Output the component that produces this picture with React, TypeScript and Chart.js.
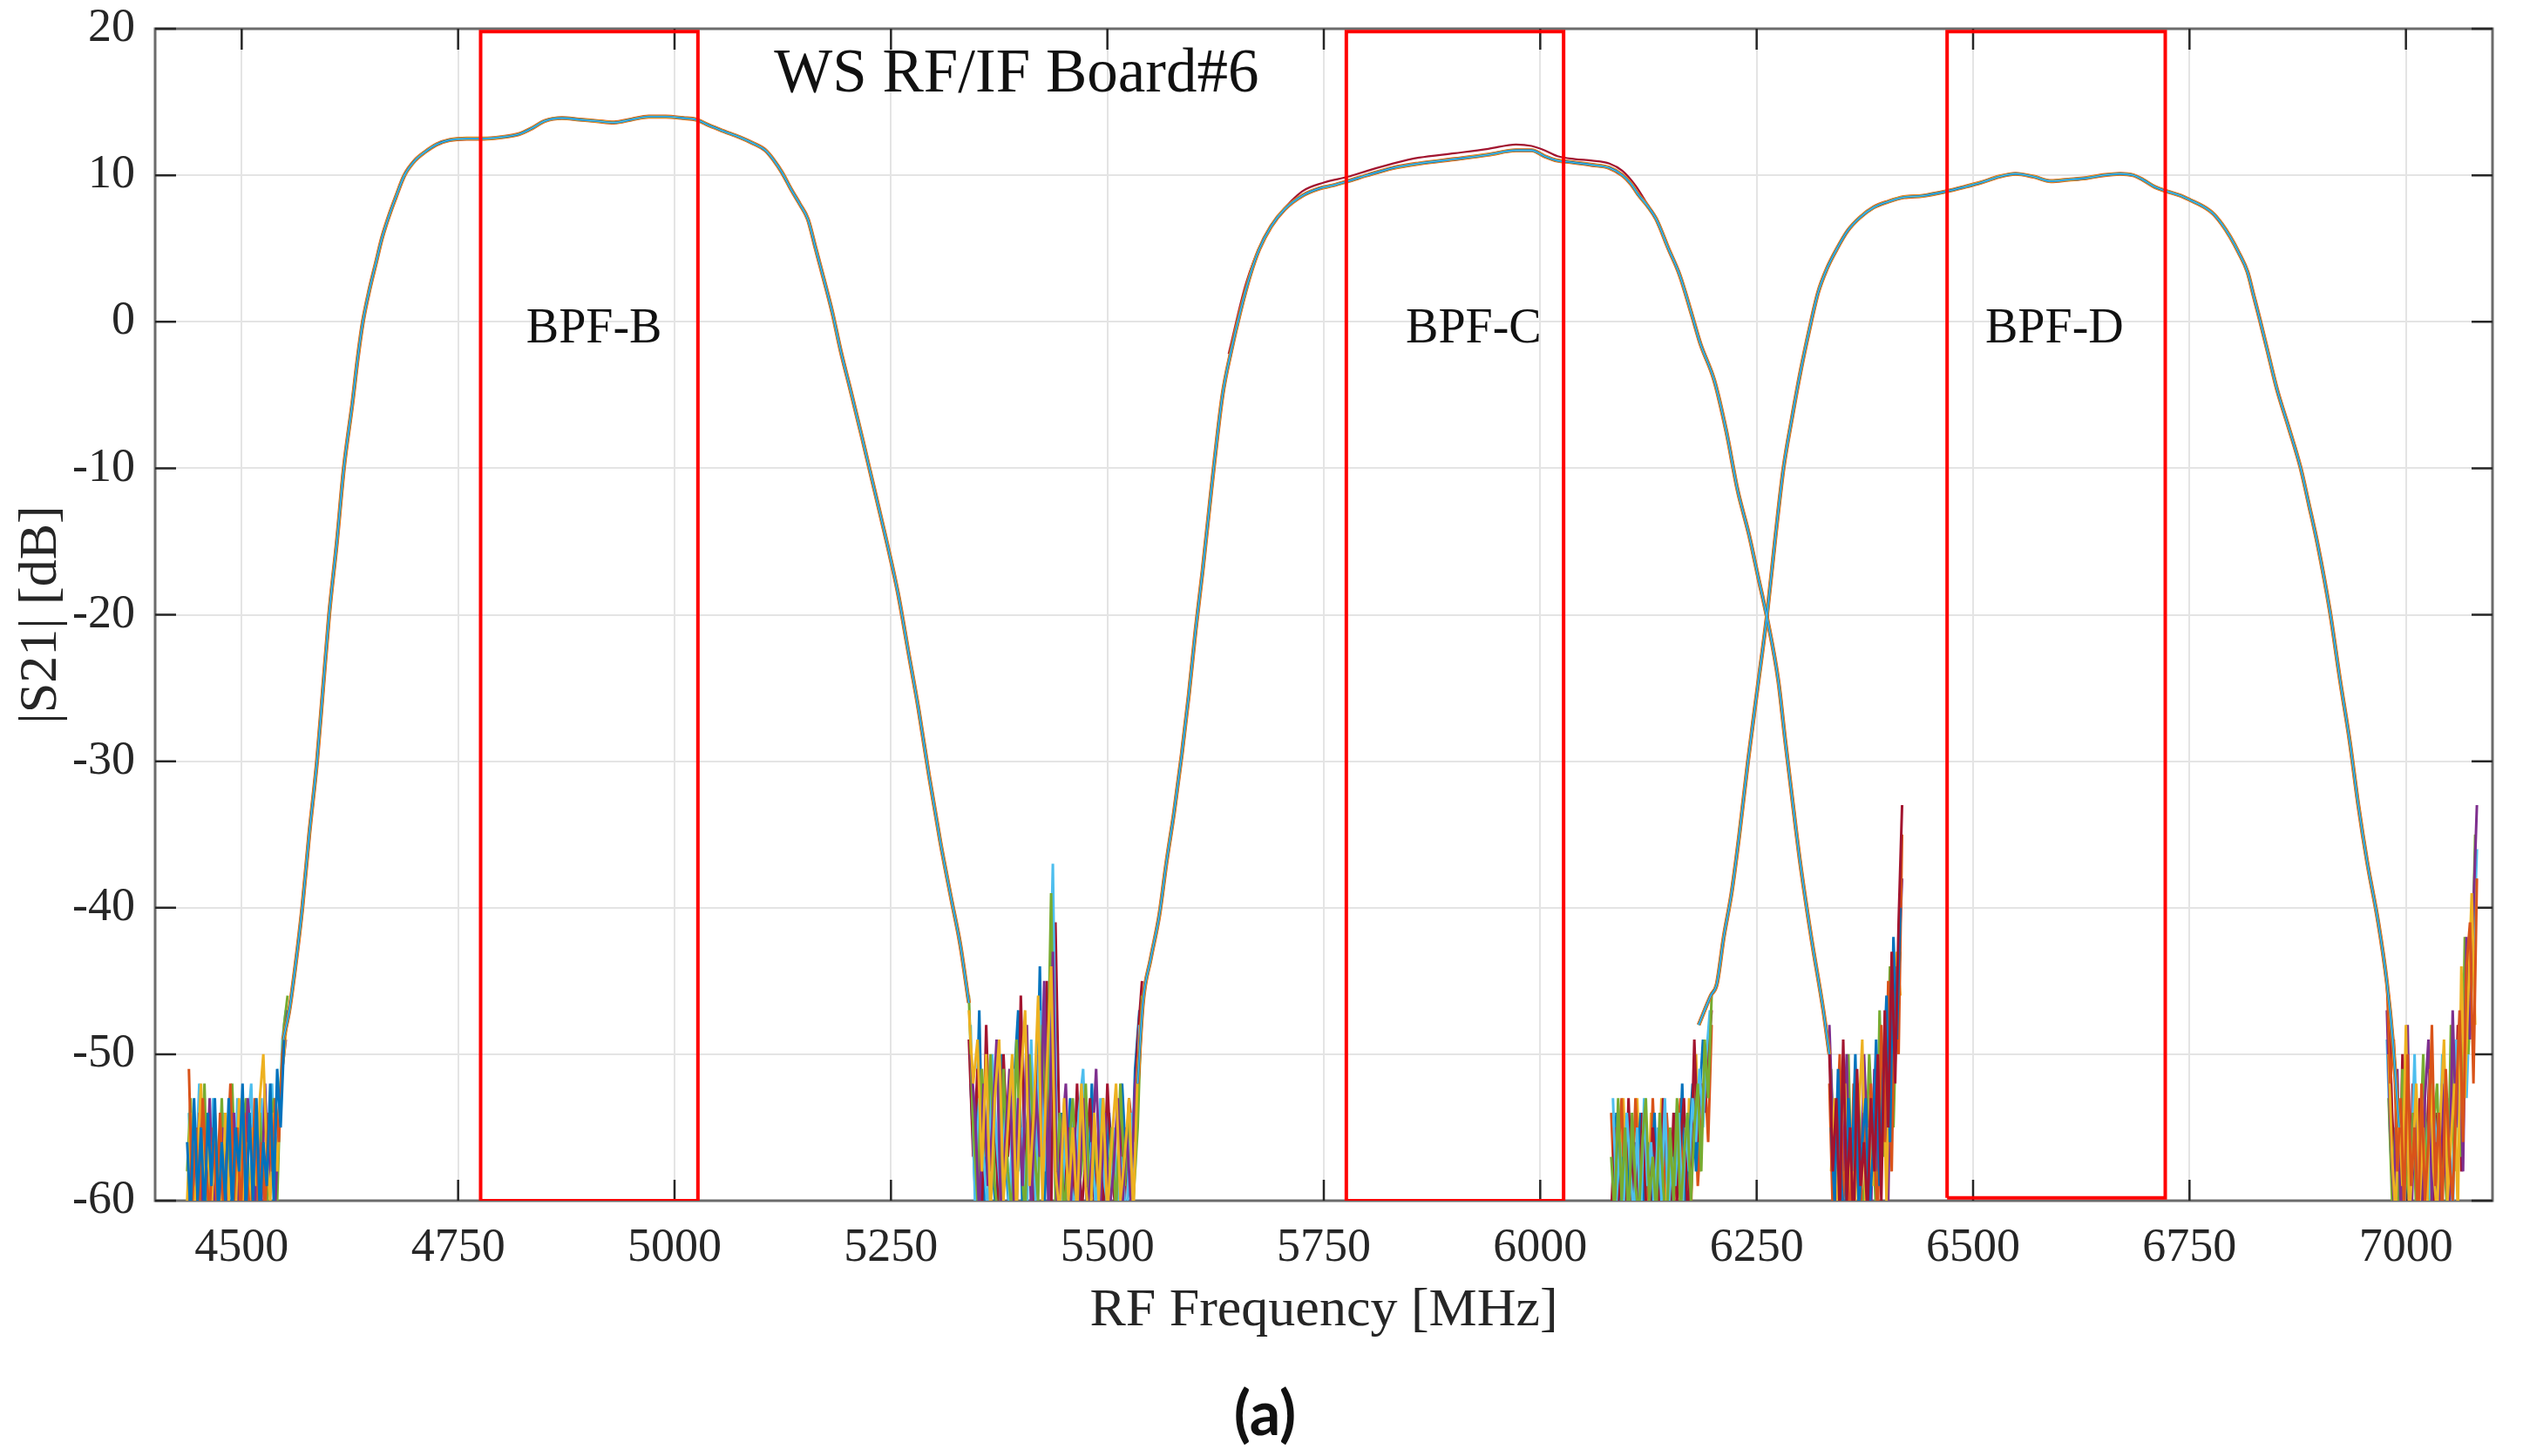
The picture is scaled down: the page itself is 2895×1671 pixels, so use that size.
import { useEffect, useRef } from 'react';
import Chart from 'chart.js/auto';

const FONT = '"Liberation Serif", "Times New Roman", serif';
const INK = '#262626';

const xTicks = [4500, 4750, 5000, 5250, 5500, 5750, 6000, 6250, 6500, 6750, 7000];
const yTicks = [-60, -50, -40, -30, -20, -10, 0, 10, 20];

// filter bands marked with red boxes
const bandNames = ['BPF-B', 'BPF-C', 'BPF-D'];
const bandLow = [4776, 5776, 6470];
const bandHigh = [5027, 6027, 6722];
const bandFloor = [-60, -60, -59.8];
const bandTop = [19.8, 19.8, 19.8];

// passband responses (MHz, dB)
const bpfBFreq = [4548, 4555, 4562, 4570, 4578, 4587, 4594, 4601, 4610, 4618, 4628, 4634, 4640, 4648, 4655, 4662, 4670, 4678, 4688, 4700, 4712, 4725, 4740, 4760, 4780, 4800, 4820, 4835, 4850, 4870, 4890, 4910, 4930, 4950, 4970, 4990, 5010, 5025, 5040, 5057, 5075, 5090, 5105, 5115, 5124, 5135, 5145, 5154, 5163, 5172, 5182, 5192, 5203, 5217, 5231, 5245, 5258, 5270, 5282, 5294, 5307, 5320, 5330, 5340];
const bpfBGain = [-49, -47, -44, -40, -35, -30, -25, -20, -15, -10, -5.5, -2.5, 0, 2.3, 4.0, 5.7, 7.2, 8.5, 10.0, 11.0, 11.6, 12.1, 12.4, 12.5, 12.5, 12.6, 12.8, 13.2, 13.7, 13.9, 13.8, 13.7, 13.6, 13.8, 14.0, 14.0, 13.9, 13.8, 13.4, 13.0, 12.6, 12.2, 11.7, 11.0, 10.2, 9.0, 8.0, 7.0, 5.0, 3.0, 0.7, -2.0, -4.6, -8.0, -11.5, -15.0, -18.5, -22.5, -26.5, -31, -35.5, -39.5, -42.5, -46.5];

const bpfCFreq = [5535, 5541, 5550, 5560, 5568, 5577, 5586, 5594, 5602, 5610, 5620, 5633, 5643, 5654, 5665, 5675, 5689, 5705, 5725, 5745, 5760, 5778, 5800, 5830, 5860, 5901, 5940, 5972, 5990, 6005, 6020, 6035, 6060, 6080, 6095, 6105, 6113, 6124, 6134, 6148, 6161, 6175, 6185, 6201, 6215, 6228, 6241, 6252, 6263, 6275, 6283, 6292, 6300, 6313, 6327, 6334];
const bpfCGain = [-52, -46.5, -43.5, -40.5, -37, -33.5, -29.5, -25.5, -21, -17, -11.5, -5, -2, 0.8, 3.2, 4.9, 6.5, 7.7, 8.6, 9.1, 9.3, 9.6, 10.0, 10.5, 10.8, 11.1, 11.4, 11.7, 11.7, 11.3, 11.0, 10.9, 10.7, 10.5, 10.0, 9.4, 8.7, 7.9, 7.0, 5.0, 3.2, 0.5, -1.5, -4.0, -7.5, -11.5, -14.5, -17.5, -20.5, -24.5, -28.6, -33, -36.8, -42, -47, -50];

// upper trace of BPF-C passband
const bpfCHiFreq = [5640, 5660, 5680, 5700, 5725, 5750, 5778, 5800, 5830, 5860, 5901, 5940, 5972, 5990, 6005, 6020, 6040, 6060, 6080, 6095, 6110, 6125];
const bpfCHiGain = [-2.2, 2.6, 5.6, 7.4, 8.9, 9.5, 9.9, 10.3, 10.8, 11.2, 11.5, 11.8, 12.1, 12.0, 11.7, 11.3, 11.1, 11.0, 10.8, 10.3, 9.3, 7.9];

const bpfDFreq = [6183, 6197, 6204, 6212, 6221, 6230, 6240, 6251, 6262, 6272, 6281, 6291, 6301, 6311, 6321, 6331, 6342, 6355, 6369, 6385, 6402, 6420, 6442, 6469, 6490, 6509, 6530, 6549, 6570, 6590, 6610, 6630, 6650, 6670, 6685, 6696, 6710, 6724, 6740, 6751, 6765, 6777, 6787, 6797, 6807, 6817, 6824, 6831, 6841, 6851, 6865, 6878, 6888, 6898, 6912, 6924, 6935, 6945, 6955, 6968, 6978, 6985, 6992];
const bpfDGain = [-48, -46, -45.2, -42, -39, -35, -30, -25, -20, -14.5, -10, -6.5, -3.3, -0.5, 2.0, 3.6, 4.9, 6.2, 7.1, 7.8, 8.2, 8.5, 8.6, 8.9, 9.2, 9.5, 9.9, 10.1, 9.9, 9.6, 9.7, 9.8, 10.0, 10.1, 10.0, 9.7, 9.2, 8.9, 8.6, 8.3, 7.9, 7.4, 6.7, 5.8, 4.7, 3.4, 1.8, 0.2, -2.2, -4.6, -7.3, -9.9, -12.5, -15.2, -19.7, -24.5, -28.6, -33, -36.8, -41, -45.1, -49.2, -55];

// noise floor below BPF-B
const bNoiseFreqA = [4437, 4441, 4445, 4449, 4453, 4457, 4461, 4465, 4469, 4473, 4477, 4481, 4485, 4489, 4493, 4497, 4501, 4505, 4509, 4513, 4517, 4521, 4525, 4529, 4533, 4537, 4541, 4545, 4549, 4553];
const bNoiseFreqB = [4439, 4443, 4447, 4451, 4455, 4459, 4463, 4467, 4471, 4475, 4479, 4483, 4487, 4491, 4495, 4499, 4503, 4507, 4511, 4515, 4519, 4523, 4527, 4531, 4535, 4539, 4543, 4547, 4551];
const bNoise1 = [-56, -61, -53, -60, -55, -61, -54, -59, -53, -61, -56, -60, -53, -61, -55, -58, -52, -61, -54, -60, -53, -61, -56, -59, -52, -60, -51, -55, -49, -47];
const bNoise2 = [-60, -54, -61, -57, -52, -60, -56, -61, -55, -58, -62, -54, -60, -57, -61, -53, -60, -56, -61, -55, -59, -53, -50, -57, -60, -54, -58, -52, -50, -47];
const bNoise3 = [-51, -60, -55, -61, -53, -58, -61, -55, -60, -54, -61, -57, -52, -60, -55, -61, -54, -59, -62, -53, -60, -56, -61, -54, -58, -53, -56, -50, -48];
const bNoise4 = [-61, -56, -60, -54, -61, -59, -53, -61, -57, -60, -55, -61, -58, -54, -61, -57, -60, -53, -56, -61, -55, -60, -52, -59, -55, -60, -54, -51, -49];
const bNoise5 = [-58, -53, -61, -55, -60, -52, -61, -57, -54, -60, -53, -61, -56, -52, -59, -61, -55, -53, -60, -57, -61, -54, -58, -61, -55, -53, -60, -52, -48, -46];
const bNoise6 = [-54, -61, -58, -52, -60, -56, -61, -53, -59, -61, -54, -60, -57, -61, -53, -58, -62, -55, -52, -60, -57, -53, -61, -56, -52, -59, -55, -49, -47];

// noise between BPF-B and BPF-C
const midNoiseFreqA = [5340, 5345, 5350, 5355, 5360, 5365, 5370, 5375, 5380, 5385, 5390, 5395, 5400, 5405, 5410, 5415, 5420, 5425, 5430, 5435, 5440, 5445, 5450, 5455, 5460, 5465, 5470, 5475, 5480, 5485, 5490, 5495, 5500, 5505, 5510, 5515, 5520, 5525, 5530, 5535, 5540];
const midNoiseFreqB = [5342, 5347, 5352, 5357, 5362, 5367, 5372, 5377, 5382, 5387, 5392, 5397, 5402, 5407, 5412, 5417, 5422, 5427, 5432, 5437, 5442, 5447, 5452, 5457, 5462, 5467, 5472, 5477, 5482, 5487, 5492, 5497, 5502, 5507, 5512, 5517, 5522, 5527, 5532, 5537];
const midNoise1 = [-47, -52, -49, -58, -50, -61, -53, -49, -60, -55, -50, -61, -52, -47, -59, -54, -46, -60, -51, -44, -58, -61, -53, -60, -55, -61, -52, -59, -62, -54, -60, -53, -61, -56, -52, -60, -57, -53, -61, -51, -47];
const midNoise2 = [-46, -55, -60, -51, -57, -50, -59, -62, -51, -58, -61, -49, -57, -61, -50, -56, -60, -48, -55, -39, -60, -54, -61, -57, -53, -60, -58, -52, -61, -56, -59, -53, -60, -55, -61, -52, -59, -54, -60, -55, -46];
const midNoise3 = [-50, -54, -61, -52, -59, -55, -49, -61, -56, -51, -60, -53, -59, -48, -61, -52, -57, -45, -61, -43, -61, -56, -52, -61, -55, -60, -53, -61, -57, -51, -60, -54, -61, -58, -53, -61, -55, -60, -52, -50];
const midNoise4 = [-48, -60, -53, -57, -61, -50, -56, -60, -54, -61, -51, -58, -55, -61, -49, -60, -47, -58, -51, -37, -59, -61, -55, -58, -61, -54, -51, -60, -56, -61, -53, -59, -61, -55, -60, -57, -62, -54, -58, -48];
const midNoise5 = [-49, -57, -51, -61, -48, -58, -55, -61, -50, -57, -53, -61, -46, -58, -52, -61, -50, -55, -45, -61, -41, -57, -61, -55, -60, -52, -61, -57, -53, -60, -55, -61, -52, -58, -61, -54, -60, -53, -56, -49, -45];
const midNoise6 = [-52, -59, -47, -61, -53, -58, -61, -50, -57, -61, -52, -47, -61, -55, -50, -59, -44, -61, -53, -47, -61, -54, -60, -53, -61, -57, -55, -61, -52, -60, -57, -61, -54, -59, -61, -52, -58, -60, -51, -47];

// noise below BPF-D rising edge
const dNoiseFreqA = [6082, 6086, 6090, 6094, 6098, 6102, 6106, 6110, 6114, 6118, 6122, 6126, 6130, 6134, 6138, 6142, 6146, 6150, 6154, 6158, 6162, 6166, 6170, 6174, 6178, 6182, 6186, 6190, 6194, 6198];
const dNoiseFreqB = [6084, 6088, 6092, 6096, 6100, 6104, 6108, 6112, 6116, 6120, 6124, 6128, 6132, 6136, 6140, 6144, 6148, 6152, 6156, 6160, 6164, 6168, 6172, 6176, 6180, 6184, 6188, 6192, 6196];
const dNoise1 = [-57, -61, -53, -60, -55, -62, -54, -59, -61, -56, -53, -60, -57, -61, -54, -59, -62, -55, -60, -53, -61, -57, -54, -60, -55, -52, -58, -49, -53, -46];
const dNoise2 = [-61, -55, -60, -58, -62, -53, -60, -56, -61, -54, -60, -62, -55, -58, -61, -53, -57, -61, -54, -60, -56, -53, -61, -58, -49, -56, -52, -54, -50, -47];
const dNoise3 = [-53, -60, -56, -61, -54, -58, -61, -55, -62, -53, -59, -56, -61, -55, -60, -53, -61, -57, -59, -54, -61, -55, -58, -53, -56, -51, -55, -50, -47];
const dNoise4 = [-60, -54, -61, -57, -60, -55, -62, -58, -54, -61, -56, -60, -54, -61, -57, -55, -60, -62, -54, -59, -52, -60, -56, -52, -58, -53, -49, -52, -48];
const dNoise5 = [-54, -60, -57, -53, -61, -56, -60, -53, -58, -62, -55, -61, -53, -59, -56, -61, -54, -58, -61, -56, -53, -60, -57, -61, -52, -59, -55, -51, -56, -48];
const dNoise6 = [-59, -55, -62, -53, -59, -61, -56, -53, -60, -57, -61, -54, -58, -62, -53, -60, -56, -61, -55, -58, -54, -61, -53, -57, -50, -58, -54, -51, -49];

// noise below BPF-C falling edge
const cNoiseFreqA = [6334, 6338, 6342, 6346, 6350, 6354, 6358, 6362, 6366, 6370, 6374, 6378, 6382, 6386, 6390, 6394, 6398, 6402, 6406, 6410, 6414, 6418];
const cNoiseFreqB = [6336, 6340, 6344, 6348, 6352, 6356, 6360, 6364, 6368, 6372, 6376, 6380, 6384, 6388, 6392, 6396, 6400, 6404, 6408, 6412, 6416];
const cNoise1 = [-50, -58, -53, -61, -49, -60, -55, -62, -51, -59, -56, -61, -53, -58, -50, -60, -47, -55, -43, -52, -41, -33];
const cNoise2 = [-52, -61, -56, -50, -60, -57, -62, -52, -58, -61, -54, -60, -52, -57, -61, -48, -56, -45, -58, -44, -50, -35];
const cNoise3 = [-55, -60, -51, -59, -62, -53, -58, -50, -61, -56, -53, -61, -57, -49, -59, -52, -46, -56, -42, -49, -40];
const cNoise4 = [-58, -53, -61, -55, -52, -61, -56, -60, -54, -49, -61, -55, -59, -53, -56, -51, -60, -48, -51, -43, -46];
const cNoise5 = [-48, -55, -61, -52, -58, -50, -61, -54, -57, -61, -50, -56, -61, -51, -58, -54, -49, -60, -46, -50, -44, -38];
const cNoise6 = [-51, -58, -54, -61, -56, -50, -60, -55, -52, -61, -58, -50, -55, -61, -47, -57, -53, -44, -55, -46, -43];

// noise above BPF-D
const eNoiseFreqA = [6978, 6982, 6986, 6990, 6994, 6998, 7002, 7006, 7010, 7014, 7018, 7022, 7026, 7030, 7034, 7038, 7042, 7046, 7050, 7054, 7058, 7062, 7066, 7070, 7074, 7078, 7082];
const eNoiseFreqB = [6980, 6984, 6988, 6992, 6996, 7000, 7004, 7008, 7012, 7016, 7020, 7024, 7028, 7032, 7036, 7040, 7044, 7048, 7052, 7056, 7060, 7064, 7068, 7072, 7076, 7080];
const eNoise1 = [-45, -52, -49, -58, -53, -61, -50, -59, -55, -62, -52, -60, -56, -48, -59, -54, -61, -51, -57, -60, -53, -47, -56, -44, -41, -52, -38];
const eNoise2 = [-47, -55, -60, -51, -61, -56, -48, -62, -54, -59, -61, -53, -49, -60, -56, -62, -52, -58, -61, -47, -55, -50, -58, -42, -49, -40, -33];
const eNoise3 = [-50, -57, -61, -54, -59, -48, -61, -57, -52, -60, -55, -62, -51, -58, -61, -54, -49, -60, -56, -52, -61, -44, -53, -46, -39, -48];
const eNoise4 = [-53, -60, -55, -62, -51, -58, -60, -54, -61, -57, -50, -59, -62, -55, -52, -60, -57, -61, -48, -58, -52, -57, -42, -50, -45, -35];
const eNoise5 = [-49, -56, -61, -52, -57, -62, -53, -58, -50, -61, -57, -54, -61, -52, -55, -60, -50, -59, -53, -62, -49, -55, -45, -53, -46, -43, -36];
const eNoise6 = [-46, -54, -59, -62, -50, -56, -61, -52, -58, -53, -61, -56, -50, -60, -54, -62, -52, -59, -51, -56, -48, -58, -44, -47, -41, -40];

const palette = ['#0072BD', '#D95319', '#EDB120', '#7E2F8E', '#77AC30', '#4DBEEE', '#A2142F'];

const pts = (xs: number[], ys: number[]) => xs.map((x, i) => ({ x, y: ys[i] }));

const line = (data: { x: number; y: number }[], color: string, width: number, order: number, smooth = false) => ({
  data,
  borderColor: color,
  borderWidth: width,
  pointRadius: 0,
  fill: false,
  tension: 0,
  cubicInterpolationMode: smooth ? 'monotone' : 'default',
  order,
});

function buildDatasets() {
  const sets: any[] = [];

  bandNames.forEach((_, i) => {
    const box = [
      { x: bandLow[i], y: bandFloor[i] },
      { x: bandLow[i], y: bandTop[i] },
      { x: bandHigh[i], y: bandTop[i] },
      { x: bandHigh[i], y: bandFloor[i] },
      { x: bandLow[i], y: bandFloor[i] },
    ];
    sets.push(line(box, '#FF0000', 4, 0));
  });

  const passbands: [number[], number[]][] = [
    [bpfBFreq, bpfBGain],
    [bpfCFreq, bpfCGain],
    [bpfDFreq, bpfDGain],
  ];
  const stack: [string, number][] = [
    ['#4DBEEE', 1.2],
    ['#0072BD', 2.4],
    ['#EDB120', 3.5],
    ['#D95319', 4.6],
  ];
  stack.forEach(([color, width], k) => {
    passbands.forEach(([f, g]) => sets.push(line(pts(f, g), color, width, 1 + k, true)));
  });
  sets.push(line(pts(bpfCHiFreq, bpfCHiGain), '#A2142F', 2.2, 5, true));

  const regions: [number[], number[], number[][]][] = [
    [bNoiseFreqA, bNoiseFreqB, [bNoise1, bNoise3, bNoise2, bNoise4, bNoise5, bNoise6]],
    [midNoiseFreqA, midNoiseFreqB, [midNoise1, midNoise3, midNoise2, midNoise4, midNoise5, midNoise6]],
    [dNoiseFreqA, dNoiseFreqB, [dNoise1, dNoise3, dNoise2, dNoise4, dNoise5, dNoise6]],
    [cNoiseFreqA, cNoiseFreqB, [cNoise1, cNoise3, cNoise2, cNoise4, cNoise5, cNoise6]],
    [eNoiseFreqA, eNoiseFreqB, [eNoise1, eNoise3, eNoise2, eNoise4, eNoise5, eNoise6]],
  ];
  regions.forEach(([fa, fb, traces], r) => {
    traces.forEach((g, k) => {
      const f = k % 2 === 0 ? fa : fb;
      sets.push(line(pts(f, g), palette[(k + r * 2) % palette.length], 3, 6));
    });
  });

  return sets;
}

const framePlugin = {
  id: 'frame',
  beforeDatasetsDraw(chart: any) {
    const { ctx, chartArea: a, scales } = chart;
    ctx.save();
    ctx.strokeStyle = '#6b6b6b';
    ctx.lineWidth = 3;
    ctx.strokeRect(a.left, a.top, a.right - a.left, a.bottom - a.top);
    ctx.strokeStyle = INK;
    ctx.lineWidth = 2.5;
    ctx.beginPath();
    xTicks.forEach((v) => {
      const px = scales.x.getPixelForValue(v);
      ctx.moveTo(px, a.bottom);
      ctx.lineTo(px, a.bottom - 24);
      ctx.moveTo(px, a.top);
      ctx.lineTo(px, a.top + 24);
    });
    yTicks.forEach((v) => {
      const py = scales.y.getPixelForValue(v);
      ctx.moveTo(a.left, py);
      ctx.lineTo(a.left + 24, py);
      ctx.moveTo(a.right, py);
      ctx.lineTo(a.right - 24, py);
    });
    ctx.stroke();
    ctx.restore();
  },
  afterDatasetsDraw(chart: any) {
    const { ctx, scales, width } = chart;
    const sx = scales.x;
    const sy = scales.y;
    ctx.save();
    ctx.fillStyle = '#111111';
    ctx.textAlign = 'center';
    ctx.textBaseline = 'alphabetic';

    ctx.font = `71px ${FONT}`;
    ctx.fillText('WS RF/IF Board#6', sx.getPixelForValue(5395), sy.getPixelForValue(15.7));

    const labelAt = [4907, 5923, 6594];
    ctx.font = `56px ${FONT}`;
    bandNames.forEach((name, i) => {
      ctx.fillText(name, sx.getPixelForValue(labelAt[i]), sy.getPixelForValue(-1.4));
    });

    ctx.font = 'bold 70px Lato, "Noto Sans", sans-serif';
    ctx.textBaseline = 'middle';
    ctx.fillText('(a)', width / 2 + 4, 1616);
    ctx.restore();
  },
};

export default function App() {
  const canvasRef = useRef<HTMLCanvasElement>(null);
  const chartRef = useRef<Chart | null>(null);

  useEffect(() => {
    if (!canvasRef.current) return;
    if (chartRef.current) chartRef.current.destroy();

    chartRef.current = new Chart(canvasRef.current, {
      type: 'line',
      data: { datasets: buildDatasets() },
      options: {
        animation: false,
        responsive: true,
        maintainAspectRatio: false,
        devicePixelRatio: 1,
        layout: { padding: { top: 25, right: 27, bottom: 115, left: 0 } },
        plugins: {
          legend: { display: false },
          tooltip: { enabled: false },
        },
        scales: {
          x: {
            type: 'linear',
            min: 4400,
            max: 7100,
            afterBuildTicks: (s: any) => {
              s.ticks = xTicks.map((v) => ({ value: v }));
            },
            afterFit: (s: any) => {
              s.height = 170;
              s.paddingLeft = 0;
              s.paddingRight = 0;
            },
            grid: { color: '#e4e4e4', lineWidth: 2, drawTicks: false },
            border: { display: false },
            ticks: {
              color: INK,
              font: { family: FONT, size: 54 },
              padding: 22,
              maxRotation: 0,
              autoSkip: false,
              callback: (v: any) => String(v),
            },
            title: {
              display: true,
              text: 'RF Frequency [MHz]',
              color: INK,
              font: { family: FONT, size: 62 },
              padding: { top: 0, bottom: 6 },
            },
          },
          y: {
            type: 'linear',
            min: -60,
            max: 20,
            afterBuildTicks: (s: any) => {
              s.ticks = yTicks.map((v) => ({ value: v }));
            },
            afterFit: (s: any) => {
              s.width = 170;
              s.paddingTop = 0;
              s.paddingBottom = 0;
            },
            grid: { color: '#e4e4e4', lineWidth: 2, drawTicks: false },
            border: { display: false },
            ticks: {
              color: INK,
              font: { family: FONT, size: 54 },
              padding: 23,
              autoSkip: false,
              callback: (v: any) => String(v),
            },
            title: {
              display: true,
              text: '|S21| [dB]',
              color: INK,
              font: { family: FONT, size: 62 },
              padding: { top: 3, bottom: 0 },
            },
          },
        },
      },
      plugins: [framePlugin],
    });

    return () => {
      if (chartRef.current) {
        chartRef.current.destroy();
        chartRef.current = null;
      }
    };
  }, []);

  return (
    <div style={{ position: 'relative', width: 2879, height: 1655 }}>
      <canvas ref={canvasRef} />
    </div>
  );
}
